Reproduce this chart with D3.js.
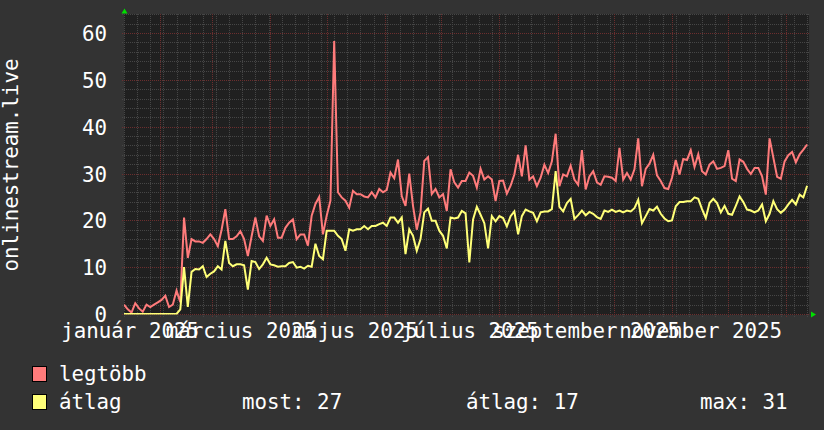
<!DOCTYPE html>
<html><head><meta charset="utf-8">
<script src="https://cdn.jsdelivr.net/npm/d3@7"></script>
<style>
body{margin:0;background:#333333;}
svg{display:block}
text{font-family:"DejaVu Sans Mono",monospace;fill:#ffffff;}
</style>
</head><body>
<svg id="c" width="824" height="430"></svg>
<script>
// ---- data ----
const startDate = "2025-01-13";   // first sample
const stepDays = 2;               // one sample every 2 days
const legtobb = [
 2.0,1.0,0.3,2.3,1.2,0.5,2.0,1.5,2.0,2.5,3.0,3.9,1.5,2.0,5.0,2.5,
 20.6,12,16,15.5,15.5,15.2,16,17,16,14.5,18,22.4,16,16,16.6,17.7,16,12.4,16.6,20.6,16.6,15.6,21,18.8,20.2,16.3,16.3,18.4,19.5,20.2,16,
 17.0,17.0,14.6,21,23.5,25,17.0,21,24.2,58.3,26,24.9,24.2,22.7,26.3,25.6,25.6,25.1,24.9,26,24.9,26.7,26,26.5,30.2,29,33,25.2,23.1,30,23.1,18,21.7,32.7,33.5,25.6,26.7,24.9,25.6,22,30.9,28.1,27,28.4,28.4,30.2,29.5,
 27,31,28.7,29.4,28.7,24.1,28.4,28.5,25.7,27.4,29.8,34,29.4,36,28.7,29.4,27.3,29.1,31.9,30.1,32.6,38.5,27.3,29.8,29.4,31.7,28.7,27.6,35,26.6,29.4,30.5,28.1,27.6,29.4,29.3,29.1,28.4,35.5,28.7,30.1,28.7,30.9,37.5,27.3,31,
 32.1,34,29.6,28.4,26.9,26.7,29.1,32.9,29.8,33.1,32.9,35,31.4,34.1,30.5,29.8,31.9,32.6,31,31.2,31.6,35,28.9,28.4,33,32.5,31,29.9,31.2,31.2,29.4,25.5,37.5,33.4,29.3,28.9,32.6,33.9,34.6,32.4,34.1,35.1,36.2
];
const atlag = [
 0,0,0,0,0,0,0,0,0,0,0,0,0,0,0,
 1,10,1.5,9,9.6,9.5,10.2,7.9,8.6,9.1,10.2,9.5,15.6,10.9,10.2,10.6,10.6,10.4,5.2,11.3,11.1,9.6,10.6,12,10.6,10.4,10.1,10.2,10.2,10.9,11.1,9.9,
 10.1,9.7,10.3,10.1,15,12.4,11.7,17.8,17.8,17.8,16.7,16,13.5,18.1,17.8,18.1,18.1,18.8,18.1,18.8,18.8,19.2,19.5,18.8,20.6,20.6,19.5,20.6,12.8,18.1,16.7,13.5,16,21.7,22.5,19.9,19.9,17.8,16.7,14,20.6,20.4,20.6,22,21.5,11,20.2,
 22.9,21.2,19.4,14,20.9,19.8,20.9,20.5,18.7,20.9,21.9,17,20.9,22.3,21.9,21.6,19.8,21.7,21.9,21.9,22.4,30.5,22.9,21.9,23.7,24.6,20.3,21.1,22.1,21.1,21.8,21.4,20.7,20.3,22.1,21.8,22.3,21.8,22.1,21.7,22.1,21.9,22.6,24.4,19.4,20.9,
 22.4,22.1,22.9,21.4,20.4,19.8,20,23,23.9,23.9,24.1,24.1,24.9,24.6,22.4,20.5,23.7,24.6,23.7,21.7,23.1,21.4,21.2,23.1,25.1,23.9,22.3,22.1,21.7,22.1,23.4,19.8,21.4,24.1,22.4,21.6,22.3,23.4,24.4,23.4,25.5,24.9,27.4
];
const yTicks = [0,10,20,30,40,50,60];
const monthLabels = ["január 2025","március 2025","május 2025","július 2025","szeptember 2025","november 2025"];
const monthLabelDates = ["2025-01-16","2025-03-16","2025-05-16","2025-07-16","2025-09-16","2025-11-16"];
const timeRange = ["2025-01-13","2026-01-13"];
const yTitle = "onlinestream.live";
const seriesNames = ["legtöbb","átlag"];
const seriesColors = ["#ff7b7b","#ffff78"];
const statLabels = ["most: 27","átlag: 17","max: 31"];

// ---- layout ----
const L = 124, R = 809, T = 14, B = 314;
const FS = 20.8;
const svg = d3.select("#c");
const parse = d3.utcParse("%Y-%m-%d");
const t0 = parse(startDate);
const x = d3.scaleUtc().domain(timeRange.map(parse)).range([L, R]);
const y = d3.scaleLinear().domain([0, 64.07]).range([B, T]);

svg.append("rect").attr("width",824).attr("height",430).attr("fill","#333333");
svg.append("rect").attr("x",L).attr("y",T).attr("width",R-L).attr("height",B-T+1).attr("fill","#202020");

const g = svg.append("g").attr("shape-rendering","crispEdges");
const [d0,d1] = x.domain();
const minorC = "#464646", majorC = "#6c2e2e";
// minor grid
d3.utcMonday.range(d0, d3.utcDay.offset(d1,1)).forEach(d=>{
  const xx = Math.round(x(d))+0.5;
  g.append("line").attr("x1",xx).attr("x2",xx).attr("y1",T).attr("y2",B+3)
   .attr("stroke",minorC).attr("stroke-dasharray","1,1");
});
d3.range(2, 65, 2).filter(v=>v%10).forEach(v=>{
  const yy = Math.round(y(v))+0.5;
  g.append("line").attr("x1",L-2).attr("x2",R).attr("y1",yy).attr("y2",yy)
   .attr("stroke",minorC).attr("stroke-dasharray","1,1");
});
// major grid
d3.utcMonth.range(d3.utcDay.offset(d0,1), d1).forEach(d=>{
  const xx = Math.round(x(d))+0.5;
  g.append("line").attr("x1",xx).attr("x2",xx).attr("y1",T).attr("y2",B+3)
   .attr("stroke",majorC).attr("stroke-dasharray","1,1");
});
yTicks.forEach(v=>{
  const yy = Math.round(y(v))+0.5;
  g.append("line").attr("x1",L-2).attr("x2",R).attr("y1",yy).attr("y2",yy)
   .attr("stroke",majorC).attr("stroke-dasharray","1,1");
});

// lines
svg.append("clipPath").attr("id","clip").append("rect")
  .attr("x",L).attr("y",T).attr("width",R-L).attr("height",B-T+0.6);
const line = d3.line().x((d,i)=>x(d3.utcDay.offset(t0, i*stepDays))).y(d=>y(d));
[legtobb, atlag].forEach((s,k)=>{
  svg.append("path").datum(s).attr("d",line).attr("fill","none")
    .attr("stroke",seriesColors[k]).attr("stroke-width",2)
    .attr("stroke-linejoin","miter").attr("clip-path","url(#clip)");
});

// axes
const ya = svg.append("g").attr("transform",`translate(${L},0)`)
  .call(d3.axisLeft(y).tickValues(yTicks).tickSize(0).tickPadding(17).tickFormat(d3.format("d")));
ya.select(".domain").remove();
ya.selectAll("text").attr("font-size",FS).attr("dy","0.36em").attr("fill","#fff");

const xa = svg.append("g").attr("transform",`translate(0,${B})`)
  .call(d3.axisBottom(x).tickValues(monthLabelDates.map(parse)).tickSize(0)
        .tickFormat((d,i)=>monthLabels[i]));
xa.select(".domain").remove();
xa.selectAll("text").attr("font-size",FS).attr("y",24).attr("dy",0).attr("fill","#fff");
d3.selectAll(".tick line").remove();
svg.selectAll("g").attr("font-family",null);

// arrows
svg.append("path").attr("d",`M${L-2.5},13.5 L${L+0.5},8.5 L${L+3.5},13.5 Z`).attr("fill","#00e000");
svg.append("path").attr("d",`M${R+2},311.5 L${R+7},314.5 L${R+2},317.5 Z`).attr("fill","#00e000");

// y title
svg.append("text").attr("transform","translate(11,165) rotate(-90)")
  .attr("text-anchor","middle").attr("dominant-baseline","central")
  .attr("font-size",FS).text(yTitle);

// legend
const legY = [366, 394];
seriesNames.forEach((n,k)=>{
  svg.append("rect").attr("x",32.5).attr("y",legY[k]+0.5).attr("width",14).attr("height",15)
    .attr("fill",seriesColors[k]).attr("stroke","#000").attr("stroke-width",1);
  svg.append("text").attr("x",59).attr("y",legY[k]+15).attr("font-size",FS).text(n);
});
const statX = [242, 466, 700];
statLabels.forEach((s,k)=>{
  svg.append("text").attr("x",statX[k]).attr("y",legY[1]+15).attr("font-size",FS).text(s);
});
</script>
</body></html>
